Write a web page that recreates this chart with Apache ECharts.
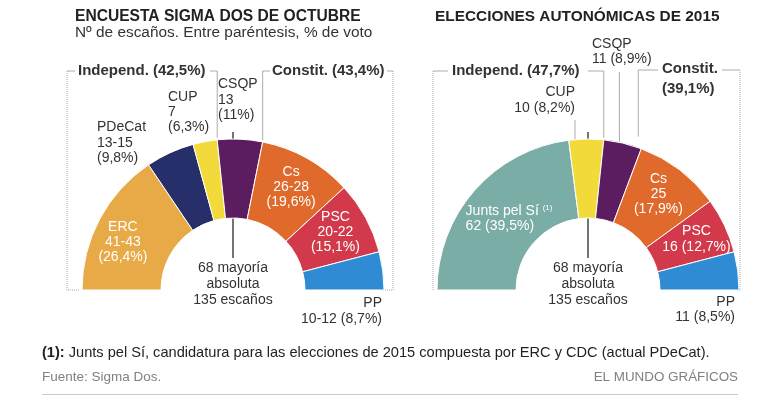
<!DOCTYPE html>
<html>
<head>
<meta charset="utf-8">
<script src="https://cdn.jsdelivr.net/npm/echarts@6/dist/echarts.min.js"></script>
<style>
  html, body { margin: 0; padding: 0; background: #fff; }
  #chart { width: 760px; height: 398px; }
</style>
</head>
<body>
<div id="chart"></div>
<script>
// encuesta Sigma Dos (octubre) -- seats are the centre of each range
const parties2017 = ['ERC', 'PDeCat', 'CUP', 'CSQP', 'Cs', 'PSC', 'PP'];
const seats2017 = [42, 14, 7, 13, 27, 21, 11];
const seatText2017 = ['41-43', '13-15', '7', '13', '26-28', '20-22', '10-12'];
const vote2017 = ['26,4%', '9,8%', '6,3%', '11%', '19,6%', '15,1%', '8,7%'];
const colors2017 = ['#e8a947', '#272f6b', '#f2da3b', '#5c1d60', '#e06a2b', '#d23a4b', '#2f8bd3'];

// elecciones 2015
const parties2015 = ['Junts pel Sí', 'CUP', 'CSQP', 'Cs', 'PSC', 'PP'];
const seats2015 = [62, 10, 11, 25, 16, 11];
const vote2015 = ['39,5%', '8,2%', '8,9%', '17,9%', '12,7%', '8,5%'];
const colors2015 = ['#7aada6', '#f2da3b', '#5c1d60', '#e06a2b', '#d23a4b', '#2f8bd3'];

const totalSeats = 135;
const majority = 68;
const blocs2017 = ['Independ. (42,5%)', 'Constit. (43,4%)'];
const blocs2015 = ['Independ. (47,7%)', 'Constit.\n(39,1%)'];

const FONT = '"Liberation Sans", Arial, sans-serif';
const R0 = 72, R1 = 151;
const leftC = [233, 290], rightC = [588, 290];

// point on the outer arc after n seats (left end = 0 seats)
function arcPoint(c, n) {
  const a = (180 - n / totalSeats * 180) * Math.PI / 180;
  return [c[0] + R1 * Math.cos(a), c[1] - R1 * Math.sin(a)];
}
function sum(arr, k) { return arr.slice(0, k).reduce((s, v) => s + v, 0); }

const inLabel = { show: true, position: 'inside', color: '#fff', fontSize: 14, lineHeight: 15, fontFamily: FONT };

function pieData(names, seats, colors, labels) {
  return names.map((n, i) => {
    const d = { name: n, value: seats[i], itemStyle: { color: colors[i] } };
    if (labels[i]) {
      d.label = Object.assign({}, inLabel, labels[i]);
    } else {
      d.label = { show: false };
    }
    return d;
  });
}

const data2017 = pieData(parties2017, seats2017, colors2017, {
  0: { formatter: parties2017[0] + '\n' + seatText2017[0] + '\n(' + vote2017[0] + ')', offset: [-9, 6] },
  4: { formatter: parties2017[4] + '\n' + seatText2017[4] + '\n(' + vote2017[4] + ')', offset: [2, -3] },
  5: { formatter: parties2017[5] + '\n' + seatText2017[5] + '\n(' + vote2017[5] + ')', offset: [2, -3] }
});
const data2015 = pieData(parties2015, seats2015, colors2015, {
  0: {
    formatter: '{a|' + parties2015[0] + ' }{s|(1)}\n{a|' + seats2015[0] + ' (' + vote2015[0] + ')}',
    offset: [7, 4],
    rich: {
      a: { color: '#fff', fontSize: 14, lineHeight: 15, fontFamily: FONT, align: 'left' },
      s: { color: '#fff', fontSize: 8, lineHeight: 15, fontFamily: FONT, verticalAlign: 'top', align: 'left' }
    }
  },
  3: { formatter: parties2015[3] + '\n' + seats2015[3] + '\n(' + vote2015[3] + ')', offset: [1, -5] },
  4: { formatter: parties2015[4] + '\n' + seats2015[4] + ' (' + vote2015[4] + ')', offset: [5, -2], lineHeight: 16 }
});

function pie(c, data) {
  return {
    type: 'pie',
    center: c,
    radius: [R0, R1],
    startAngle: 180,
    endAngle: 0,
    clockwise: true,
    silent: true,
    animation: false,
    avoidLabelOverlap: false,
    labelLayout: { hideOverlap: false },
    labelLine: { show: false },
    itemStyle: { borderColor: '#fff', borderWidth: 1 },
    data: data
  };
}

function txt(x, y, text, opt) {
  return {
    type: 'text', x: x, y: y, silent: true,
    style: Object.assign({
      text: text, fill: '#333', fontSize: 14, fontFamily: FONT,
      textAlign: 'left', textVerticalAlign: 'middle', lineHeight: 15.5
    }, opt || {})
  };
}
function line(points, dash) {
  return {
    type: 'polyline', silent: true,
    shape: { points: points },
    style: { stroke: '#ababab', lineWidth: 1, fill: null, lineDash: dash || null }
  };
}

// bracket anchors from the seat counts
const indEnd17 = arcPoint(leftC, sum(seats2017, 3));
const conStart17 = arcPoint(leftC, sum(seats2017, 4));
const indEnd15 = arcPoint(rightC, sum(seats2015, 2));
const conStart15 = arcPoint(rightC, sum(seats2015, 3));
const cup15 = arcPoint(rightC, sum(seats2015, 1) + 1.8);
const csqp15 = arcPoint(rightC, sum(seats2015, 2) + 4.5);
const majTop17 = arcPoint(leftC, majority - 0.5);
const majTop15 = arcPoint(rightC, majority - 0.5);

const bold15 = { fontWeight: 'bold', fontSize: 15, fill: '#333' };

const graphics = [
  // titles
  txt(75, 17, 'ENCUESTA SIGMA DOS DE OCTUBRE', { fontWeight: 'bold', fontSize: 15.6, fill: '#222' }),
  txt(75, 33, 'Nº de escaños. Entre paréntesis, % de voto', { fill: '#333', fontSize: 15.4 }),
  txt(435, 17, 'ELECCIONES AUTONÓMICAS DE 2015', { fontWeight: 'bold', fontSize: 15.4, fill: '#222' }),

  // left brackets
  line([[67, 71], [67, 290], [80, 290]], [1, 1]),
  line([[67, 71], [75, 71]]),
  line([[210, 71], [indEnd17[0], 71], [indEnd17[0], indEnd17[1] - 2]]),
  line([[conStart17[0], conStart17[1] - 2], [conStart17[0], 71], [270, 71]]),
  line([[387, 71], [393, 71]]),
  line([[393, 71], [393, 290], [383, 290]], [1, 1]),
  txt(78, 71, blocs2017[0], bold15),
  txt(272, 71, blocs2017[1], bold15),

  // right brackets
  line([[433, 71], [433, 290]], [1, 1]),
  line([[433, 71], [448, 71]]),
  line([[588, 71], [indEnd15[0], 71], [indEnd15[0], indEnd15[1] - 2]]),
  line([[conStart15[0] - 3, conStart15[1] - 12], [conStart15[0] - 3, 70], [658, 70]]),
  line([[722, 70], [740, 70]]),
  line([[740, 70], [740, 290], [737, 290]], [1, 1]),
  txt(452, 71, blocs2015[0], bold15),
  txt(662, 79, blocs2015[1], Object.assign({}, bold15, { lineHeight: 20 })),

  // outside labels 2017
  txt(97, 143, parties2017[1] + '\n' + seatText2017[1] + '\n(' + vote2017[1] + ')'),
  txt(168, 112, parties2017[2] + '\n' + seatText2017[2] + '\n(' + vote2017[2] + ')', { lineHeight: 15 }),
  txt(218, 100, parties2017[3] + '\n' + seatText2017[3] + '\n(' + vote2017[3] + ')'),
  txt(382, 311, parties2017[6] + '\n' + seatText2017[6] + ' (' + vote2017[6] + ')', { textAlign: 'right', lineHeight: 16 }),

  // outside labels 2015
  line([[cup15[0], 120], [cup15[0], cup15[1]]]),
  line([[csqp15[0], 72], [csqp15[0], csqp15[1]]]),
  txt(575, 100, parties2015[1] + '\n' + seats2015[1] + ' (' + vote2015[1] + ')', { textAlign: 'right', lineHeight: 16 }),
  txt(592, 52, parties2015[2] + '\n' + seats2015[2] + ' (' + vote2015[2] + ')', { lineHeight: 15 }),
  txt(735, 310, parties2015[5] + '\n' + seats2015[5] + ' (' + vote2015[5] + ')', { textAlign: 'right', lineHeight: 15 }),

  // majority lines
  { type: 'line', silent: true, shape: { x1: majTop17[0], y1: majTop17[1] - 7, x2: majTop17[0], y2: 258 }, style: { stroke: '#444', lineWidth: 1.5 } },
  { type: 'line', silent: true, shape: { x1: majTop15[0], y1: majTop15[1] - 7, x2: majTop15[0], y2: 258 }, style: { stroke: '#444', lineWidth: 1.5 } },
  txt(leftC[0], 284, majority + ' mayoría\nabsoluta\n' + totalSeats + ' escaños', { textAlign: 'center', lineHeight: 16 }),
  txt(rightC[0], 284, majority + ' mayoría\nabsoluta\n' + totalSeats + ' escaños', { textAlign: 'center', lineHeight: 16 }),

  // footer
  {
    type: 'text', x: 42, y: 353, silent: true,
    style: {
      text: '{b|(1):} Junts pel Sí, candidatura para las elecciones de 2015 compuesta por ERC y CDC (actual PDeCat).',
      fill: '#222', fontSize: 14.6, fontFamily: FONT, textVerticalAlign: 'middle',
      rich: { b: { fontWeight: 'bold', fontSize: 14.6, fontFamily: FONT, fill: '#222' } }
    }
  },
  txt(42, 377, 'Fuente: Sigma Dos.', { fill: '#808080', fontSize: 13.5 }),
  txt(738, 377, 'EL MUNDO GRÁFICOS', { fill: '#808080', fontSize: 13.4, textAlign: 'right' }),
  { type: 'line', silent: true, shape: { x1: 42, y1: 394.5, x2: 738, y2: 394.5 }, style: { stroke: '#c8c8c8', lineWidth: 1 } }
];

const chart = echarts.init(document.getElementById('chart'), null, { renderer: 'canvas' });
chart.setOption({
  animation: false,
  backgroundColor: '#fff',
  series: [pie(leftC, data2017), pie(rightC, data2015)],
  graphic: graphics
});
</script>
</body>
</html>
